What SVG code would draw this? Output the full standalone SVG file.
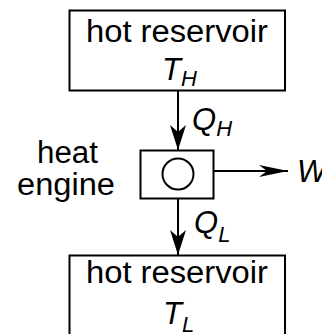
<svg xmlns="http://www.w3.org/2000/svg" width="322" height="334" viewBox="0 0 322 334">
<style>
.box{fill:#fff;stroke:#000;stroke-width:2}
.t{font-family:"Liberation Sans",Arial,sans-serif;font-size:31px;fill:#000}
.i{font-style:italic}
.s{font-size:22px;font-style:italic}
.ln{stroke:#000;stroke-width:2;fill:none}
</style>
<defs>
<marker id="ah" markerWidth="30" markerHeight="12" refX="29" refY="6" orient="auto" markerUnits="userSpaceOnUse">
<path d="M0,0 L29,6 L0,12 L8,6 Z" fill="#000"/>
</marker>
<marker id="av" markerWidth="16" markerHeight="26" refX="8" refY="25" orient="0" markerUnits="userSpaceOnUse">
<path d="M0,0 L8,7 L16,0 L8,25 Z" fill="#000"/>
</marker>
</defs>
<rect width="322" height="334" fill="#fff"/>
<g id="connectors">
<line class="ln" x1="178" y1="91" x2="178" y2="150" marker-end="url(#av)"/>
<line class="ln" x1="214" y1="171" x2="288" y2="171" marker-end="url(#ah)"/>
<line class="ln" x1="178" y1="198" x2="178" y2="255" marker-end="url(#av)"/>
</g>
<g id="hot">
<rect class="box" x="69.5" y="10.5" width="215.5" height="80"/>
<text class="t" x="86" y="41.5" textLength="182" lengthAdjust="spacingAndGlyphs">hot reservoir</text>
<text class="t i" x="162" y="80" font-size="32">T<tspan class="s" dy="6">H</tspan></text>
</g>
<g id="engine">
<rect class="box" x="140.5" y="150.5" width="73" height="48"/>
<circle cx="178" cy="174" r="15.5" fill="none" stroke="#000" stroke-width="2"/>
</g>
<g id="engine-label">
<text class="t" x="37" y="163" textLength="61" lengthAdjust="spacingAndGlyphs">heat</text>
<text class="t" x="17" y="195" textLength="98" lengthAdjust="spacingAndGlyphs">engine</text>
</g>
<g id="qh"><text class="t i" x="192" y="130" font-size="28">Q<tspan class="s" dy="6">H</tspan></text></g>
<g id="w"><text class="t i" x="297" y="182">W</text></g>
<g id="ql"><text class="t i" x="194" y="233" font-size="28">Q<tspan class="s" dy="9">L</tspan></text></g>
<g id="cold">
<rect class="box" x="69.5" y="255.5" width="215.5" height="90"/>
<text class="t" x="86" y="283" textLength="182" lengthAdjust="spacingAndGlyphs">hot reservoir</text>
<text class="t i" x="163" y="324" font-size="32">T<tspan class="s" dy="8">L</tspan></text>
</g>
</svg>
